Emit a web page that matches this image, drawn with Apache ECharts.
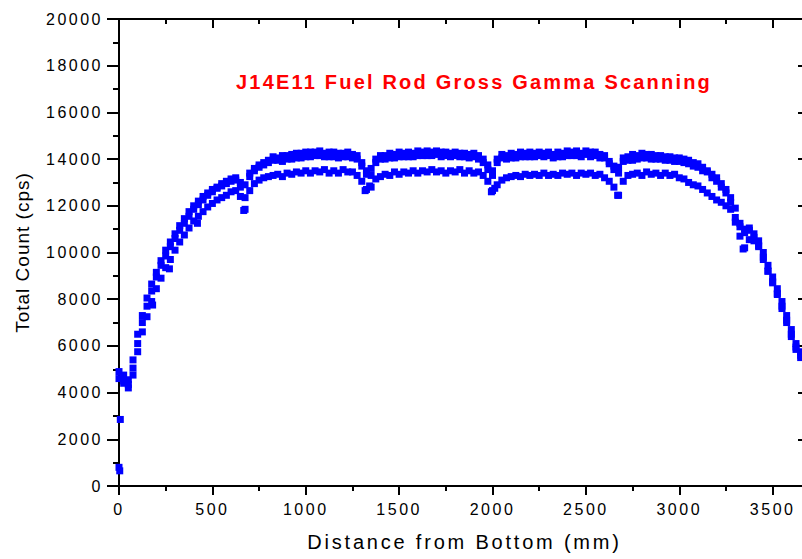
<!DOCTYPE html>
<html>
<head>
<meta charset="utf-8">
<title>J14E11 Fuel Rod Gross Gamma Scanning</title>
<script src="https://cdn.jsdelivr.net/npm/echarts@6/dist/echarts.min.js"></script>
<style>
  * { margin: 0; padding: 0; }
  html, body { width: 802px; height: 559px; background: #fff; overflow: hidden; }
  #main { width: 802px; height: 559px; }
  /* Origin draws its text a little spaced out */
  #main text[style*="16px"] { letter-spacing: 2.5px; }
  #main text[style*="20px"] { letter-spacing: 2.8px; }
  #main text[style*="19px"] { letter-spacing: 1px; }
  #main text[style*="bold"] { letter-spacing: 2.2px; }
</style>
</head>
<body>
<div id="main"></div>
<script>
// scan positions (mm from bottom), one reading every 25 mm
const posMm = [
  0, 25, 50, 75, 100, 125, 150, 175, 200, 225, 250, 275, 300, 325, 350, 375, 400, 425, 450, 475,
  500, 525, 550, 575, 600, 625, 650, 675, 700, 725, 750, 775, 800, 825, 850, 875, 900, 925, 950, 975,
  1000, 1025, 1050, 1075, 1100, 1125, 1150, 1175, 1200, 1225, 1250, 1275, 1300, 1325, 1350, 1375, 1400, 1425, 1450, 1475,
  1500, 1525, 1550, 1575, 1600, 1625, 1650, 1675, 1700, 1725, 1750, 1775, 1800, 1825, 1850, 1875, 1900, 1925, 1950, 1975,
  2000, 2025, 2050, 2075, 2100, 2125, 2150, 2175, 2200, 2225, 2250, 2275, 2300, 2325, 2350, 2375, 2400, 2425, 2450, 2475,
  2500, 2525, 2550, 2575, 2600, 2625, 2650, 2675, 2700, 2725, 2750, 2775, 2800, 2825, 2850, 2875, 2900, 2925, 2950, 2975,
  3000, 3025, 3050, 3075, 3100, 3125, 3150, 3175, 3200, 3225, 3250, 3275, 3300, 3325, 3350, 3375, 3400, 3425, 3450, 3475,
  3500, 3525, 3550, 3575, 3600, 3625, 3650
];

// upper band of counts (cps), first pass
const scanA = [
  4900, 4750, 4350, 5050, 6100, 7000, 7700, 8350, 8950, 9450, 9850, 10250, 10600, 10950, 11250, 11550, 11850, 12050, 12250, 12450,
  12600, 12750, 12850, 12950, 13050, 13100, 13000, 12350, 13250, 13500, 13650, 13750, 13850, 13950, 14050, 13900, 14150, 14000, 14250, 14050,
  14300, 14100, 14300, 14150, 14250, 14100, 14300, 14050, 14250, 14100, 14200, 14000, 13850, 13500, 13300, 13850, 14000, 14150, 14050, 14200,
  14100, 14250, 14100, 14250, 14150, 14300, 14150, 14300, 14200, 14300, 14150, 14250, 14150, 14250, 14100, 14200, 14100, 14150, 14000, 13750,
  13300, 13850, 14050, 14150, 14050, 14200, 14100, 14250, 14100, 14250, 14150, 14250, 14150, 14200, 14100, 14250, 14150, 14300, 14150, 14250,
  14200, 14300, 14150, 14200, 14050, 13900, 13700, 13400, 13900, 14100, 13950, 14150, 14050, 14200, 14000, 14150, 14000, 14100, 13950, 14050,
  13900, 14000, 13800, 13850, 13650, 13650, 13500, 13350, 13200, 12950, 12700, 12350, 11900, 11100, 11000, 10950, 10800, 10500, 10000, 9450,
  8950, 8450, 7900, 7300, 6700, 6100, 5600
];

// upper band of counts (cps), second pass
const scanC = [
  4600, 4400, 4550, 5400, 6500, 7300, 8050, 8650, 9150, 9650, 10100, 10450, 10800, 11150, 11450, 11750, 12000, 12200, 12400, 12550,
  12700, 12800, 12950, 13050, 13150, 13200, 12800, 12900, 13400, 13600, 13750, 13850, 13950, 14100, 13950, 14150, 14000, 14200, 14050, 14250,
  14100, 14300, 14150, 14350, 14100, 14300, 14100, 14250, 14100, 14300, 14050, 14150, 13700, 13350, 13600, 14000, 14150, 14000, 14250, 14050,
  14300, 14100, 14300, 14100, 14350, 14150, 14350, 14150, 14350, 14100, 14300, 14100, 14300, 14100, 14250, 14050, 14250, 14000, 13850, 13550,
  13500, 14000, 14200, 14000, 14250, 14050, 14300, 14100, 14300, 14100, 14300, 14100, 14300, 14050, 14300, 14100, 14350, 14150, 14350, 14100,
  14350, 14100, 14300, 14050, 14150, 13800, 13550, 13650, 14050, 13950, 14200, 14000, 14250, 14050, 14200, 14000, 14150, 13950, 14100, 13900,
  14050, 13850, 13950, 13700, 13800, 13500, 13450, 13200, 13050, 12800, 12550, 12150, 11500, 11250, 10850, 11050, 10650, 10250, 9700, 9200,
  8700, 8200, 7600, 7000, 6400, 5850, 5750
];

// lower band of counts (cps)
const scanB = [
  800, 4500, 4200, 4750, 5750, 6600, 7250, 7900, 8450, 8900, 9350, 9700, 10100, 10450, 10750, 11050, 11350, 11550, 11750, 11950,
  12100, 12250, 12350, 12450, 12600, 12650, 12400, 11850, 12650, 12950, 13100, 13200, 13250, 13300, 13350, 13250, 13400, 13350, 13450, 13400,
  13500, 13400, 13500, 13450, 13550, 13400, 13500, 13400, 13550, 13450, 13450, 13300, 13050, 12700, 12800, 13150, 13250, 13350, 13300, 13450,
  13350, 13450, 13400, 13500, 13400, 13500, 13450, 13550, 13450, 13500, 13400, 13500, 13450, 13550, 13400, 13500, 13400, 13450, 13300, 13050,
  12650, 12900, 13100, 13200, 13250, 13300, 13250, 13350, 13300, 13350, 13300, 13400, 13300, 13350, 13300, 13400, 13350, 13400, 13300, 13400,
  13350, 13400, 13300, 13350, 13200, 13050, 12800, 12450, 13050, 13300, 13350, 13400, 13300, 13450, 13350, 13400, 13300, 13400, 13300, 13350,
  13200, 13150, 13000, 12900, 12850, 12700, 12550, 12400, 12250, 12150, 12000, 11850, 11300, 10700, 10200, 10550, 10500, 10300, 9800, 9200,
  8750, 8250, 7700, 7100, 6500, 5950, 5500
];

// odd single readings (start of rod, dips at the spacer grids)
const strayX = [4, 7, 180, 270, 420, 668, 1318, 1342, 1994, 2012, 2670, 3342];
const strayY = [650, 2850, 7750, 9300, 11250, 11800, 12650, 12850, 12600, 12750, 12450, 10150];

const xTicks = { min: 0, max: 3700, major: 500, minor: 250 };
const yTicks = { min: 0, max: 20000, major: 2000 };

const font = 'Liberation Sans';

function pairs(xs, ys) {
  return xs.map(function (x, i) { return [x, ys[i]]; });
}

// plain numbers, no thousands separator
function plain(v) { return String(v); }

// one x axis (major or minor ticks) at bottom or top
function xAx(pos, step, len, withLabel) {
  return {
    type: 'value', position: pos, min: xTicks.min, max: xTicks.max, interval: step,
    axisLine: { show: withLabel || pos === 'top' && step === xTicks.major, onZero: false, lineStyle: { color: '#000', width: 2 } },
    axisTick: { show: true, inside: pos === 'top', length: len, lineStyle: { color: '#000', width: 2 } },
    axisLabel: { show: withLabel, margin: 15, color: '#000', fontSize: 16, fontFamily: font, showMaxLabel: false, formatter: plain },
    splitLine: { show: false }
  };
}

const chart = echarts.init(document.getElementById('main'), null, { renderer: 'svg' });

const xBottom = xAx('bottom', xTicks.major, 9, true);
xBottom.name = 'Distance from Bottom (mm)';
xBottom.nameLocation = 'middle';
xBottom.nameGap = 46;
xBottom.nameMoveOverlap = false;
xBottom.nameTextStyle = { color: '#000', fontSize: 20, fontFamily: font };

// solid blue squares, scatter is 0.8 opaque by default
const dots = { symbol: 'rect', symbolSize: 7, itemStyle: { color: '#0000ff', opacity: 1 } };

chart.setOption({
  animation: false,
  backgroundColor: '#fff',
  title: {
    text: 'J14E11 Fuel Rod Gross Gamma Scanning',
    left: 236,
    top: 72,
    padding: 0,
    textStyle: { color: '#ff0000', fontWeight: 'bold', fontSize: 20, fontFamily: font }
  },
  grid: { left: 119, top: 19, width: 691, height: 467, outerBoundsMode: 'none' },
  xAxis: [
    xBottom,
    xAx('bottom', xTicks.minor, 5, false),
    xAx('top', xTicks.major, 9, false),
    xAx('top', xTicks.minor, 5, false)
  ],
  yAxis: [
    {
      type: 'value', position: 'left', min: yTicks.min, max: yTicks.max, interval: yTicks.major,
      axisLine: { show: true, onZero: false, lineStyle: { color: '#000', width: 2 } },
      axisTick: { length: 12, lineStyle: { color: '#000', width: 2 } },
      minorTick: { show: true, splitNumber: 2, length: 6, lineStyle: { color: '#000', width: 2 } },
      axisLabel: { margin: 16, color: '#000', fontSize: 16, fontFamily: font, formatter: plain },
      splitLine: { show: false },
      name: 'Total Count (cps)',
      nameLocation: 'middle',
      nameGap: 87,
      nameMoveOverlap: false,
      nameTextStyle: { color: '#000', fontSize: 19, fontFamily: font }
    },
    {
      type: 'value', position: 'right', min: yTicks.min, max: yTicks.max, interval: yTicks.major,
      axisLine: { show: true, onZero: false, lineStyle: { color: '#000', width: 2 } },
      axisTick: { inside: true, length: 12, lineStyle: { color: '#000', width: 2 } },
      minorTick: { show: true, splitNumber: 2, length: 6, lineStyle: { color: '#000', width: 2 } },
      axisLabel: { show: false },
      splitLine: { show: false }
    }
  ],
  series: [
    Object.assign({ name: 'scan A', type: 'scatter', data: pairs(posMm, scanA) }, dots),
    Object.assign({ name: 'scan C', type: 'scatter', data: pairs(posMm, scanC) }, dots),
    Object.assign({ name: 'scan B', type: 'scatter', data: pairs(posMm, scanB) }, dots),
    Object.assign({ name: 'stray', type: 'scatter', data: pairs(strayX, strayY) }, dots)
  ]
});
</script>
</body>
</html>
